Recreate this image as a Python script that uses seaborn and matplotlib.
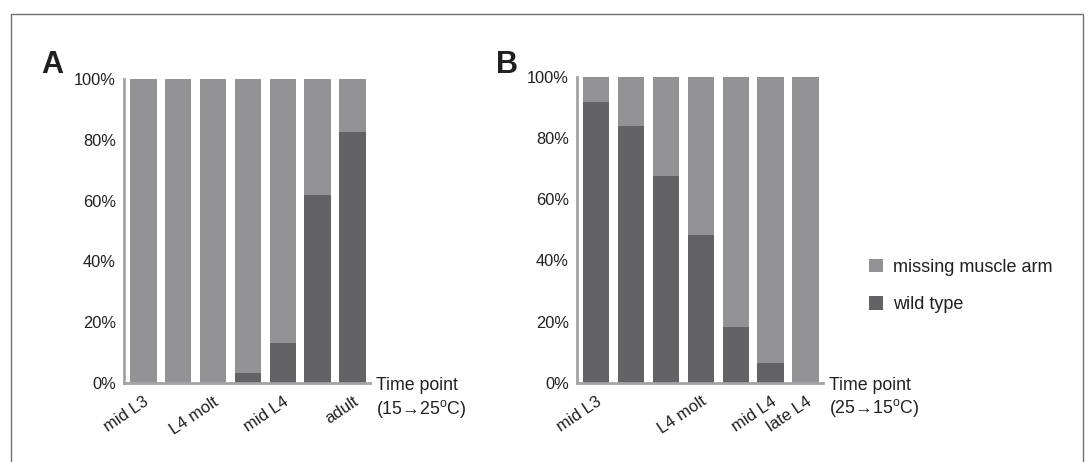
#!/usr/bin/env python3
"""Stacked bar chart of muscle-arm phenotype over time points (panels A and B)."""

import numpy as np
import pandas as pd
import seaborn as sns
import matplotlib.pyplot as plt
from matplotlib.patches import Patch, Rectangle

# Panel A: 15 -> 25 C shift
labels_a = ["mid L3", "", "L4 molt", "", "mid L4", "", "adult"]
wild_a = [0, 0, 0, 3.2, 13.3, 61.8, 82.7]

# Panel B: 25 -> 15 C shift
labels_b = ["mid L3", "", "", "L4 molt", "", "mid L4", "late L4"]
wild_b = [91.7, 83.9, 67.7, 48.2, 18.3, 6.5, 0]

series = ["missing muscle arm", "wild type"]
col_missing = "#939396"
col_wild = "#636365"
axis_col = "#a2a3a6"
text_col = "#231f20"


def make_frame(labels, wild):
    df = pd.DataFrame({"bar": [str(i) for i in range(len(labels))], "wild": wild})
    df["total"] = 100.0
    return df


def draw_panel(ax, labels, wild, shift_text):
    df = make_frame(labels, wild)
    order = list(df["bar"])
    # full bar = missing + wild, then wild drawn on top
    sns.barplot(ax=ax, data=df, x="bar", y="total", order=order,
                color=col_missing, saturation=1, width=0.76, linewidth=0)
    sns.barplot(ax=ax, data=df, x="bar", y="wild", order=order,
                color=col_wild, saturation=1, width=0.76, linewidth=0)
    ax.set_xlim(-0.55, 6.5)
    ax.set_ylim(0, 100)
    ax.set_yticks(np.arange(0, 101, 20))
    ax.set_yticklabels([f"{v}%" for v in range(0, 101, 20)])
    ax.set_xticks(range(len(labels)))
    ax.set_xticklabels(labels, rotation=34, ha="right", rotation_mode="anchor")
    ax.set_xlabel("")
    ax.set_ylabel("")
    for s in ("top", "right"):
        ax.spines[s].set_visible(False)
    for s in ("left", "bottom"):
        ax.spines[s].set_color(axis_col)
        ax.spines[s].set_linewidth(2.0)
    ax.tick_params(axis="y", length=3, width=1.5, color=axis_col, pad=3,
                   labelsize=11.8, labelcolor=text_col)
    ax.tick_params(axis="x", length=0, pad=8, labelsize=12, labelcolor=text_col)
    ax.grid(False)
    ax.annotate("Time point\n(" + shift_text + ")", xy=(1, 0), xycoords="axes fraction",
                xytext=(4, 4), textcoords="offset points", ha="left", va="top",
                fontsize=12.8, color=text_col, linespacing=1.2,
                family=["Liberation Sans", "DejaVu Sans"])


def main() -> None:
    sns.set_theme(style="white")
    plt.rcParams["font.family"] = ["Liberation Sans", "DejaVu Sans"]

    fig = plt.figure(figsize=(10.91, 4.62), dpi=100)
    ax_a = fig.add_axes([0.1137, 0.171, 0.2255, 0.658])
    ax_b = fig.add_axes([0.5289, 0.1717, 0.2255, 0.6616])

    draw_panel(ax_a, labels_a, wild_a, "15\u219225$^{\\mathregular{o}}$C")
    draw_panel(ax_b, labels_b, wild_b, "25\u219215$^{\\mathregular{o}}$C")

    fig.text(41 / 1091, 1 - 73 / 462, "A", fontsize=22, fontweight="bold", color=text_col)
    fig.text(496 / 1091, 1 - 73 / 462, "B", fontsize=22, fontweight="bold", color=text_col)

    handles = [Patch(facecolor=col_missing, edgecolor="none"),
               Patch(facecolor=col_wild, edgecolor="none")]
    fig.legend(handles, series, loc="center left",
               bbox_to_anchor=(853 / 1091, 1 - 286 / 462), frameon=False,
               fontsize=13, handlelength=0.75, handleheight=0.75,
               handletextpad=0.55, labelspacing=1.15, labelcolor=text_col)

    # outer frame (open at the bottom)
    fig.patches.append(Rectangle((11.5 / 1091, -0.1), (1083 - 11.5) / 1091,
                                 1.1 - 14.5 / 462, transform=fig.transFigure,
                                 fill=False, edgecolor="#707070", linewidth=1.0))

    fig.savefig("out.png", dpi=100)


if __name__ == "__main__":
    main()
